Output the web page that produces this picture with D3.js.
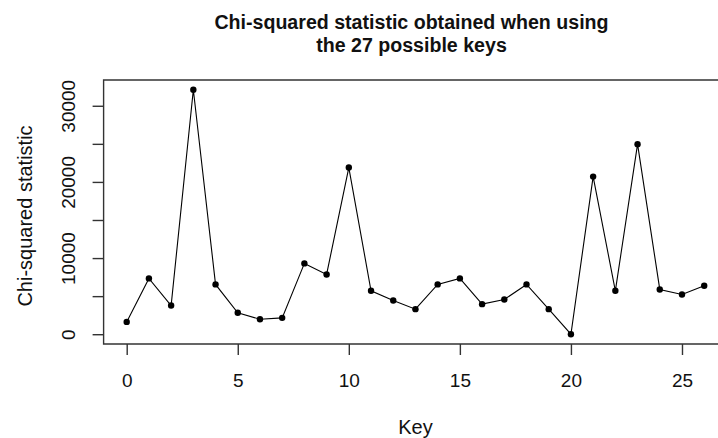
<!DOCTYPE html>
<html>
<head>
<meta charset="utf-8">
<script src="https://d3js.org/d3.v7.min.js"></script>
<style>
  body { margin: 0; background: #fff; }
  svg text { font-family: "Liberation Sans", Arial, sans-serif; fill: #111; }
</style>
</head>
<body>
<svg width="718" height="438"></svg>
<script>
// keys 0..26 and the chi-squared value
var keys = d3.range(0, 27);
var chiSq = [1620, 7330, 3770, 32100, 6540, 2810, 1970, 2150, 9300, 7850,
             21890, 5700, 4430, 3290, 6540, 7330, 3950, 4560, 6540, 3290,
             0, 20700, 5700, 24960, 5880, 5220, 6360];
var xTicks = [0, 5, 10, 15, 20, 25];
var yTicks = [0, 5000, 10000, 15000, 20000, 25000, 30000];
var yLabelled = [0, 10000, 20000, 30000];
var titleLines = ["Chi-squared statistic obtained when using", "the 27 possible keys"];

var data = keys.map(function (k, i) { return { key: k, value: chiSq[i] }; });

var svg = d3.select("svg");

// plot region (R style: 4% padding on each side of the data range)
var pLeft = 103.6, pRight = 727.3, pTop = 80, pBottom = 344;

var xr = 26 * 0.04;
var x = d3.scaleLinear().domain([0 - xr, 26 + xr]).range([pLeft, pRight]);

var ymin = d3.min(chiSq), ymax = d3.max(chiSq), yr = (ymax - ymin) * 0.04;
var y = d3.scaleLinear().domain([ymin - yr, ymax + yr]).range([pBottom, pTop]);

// box (right side falls outside the picture)
svg.append("path")
    .attr("d", "M" + pRight + "," + pTop + "H" + pLeft + "V" + pBottom + "H" + pRight)
    .attr("fill", "none")
    .attr("stroke", "#333")
    .attr("stroke-width", 1.4);

// x axis
var gx = svg.append("g")
    .attr("transform", "translate(0," + pBottom + ")")
    .call(d3.axisBottom(x).tickValues(xTicks).tickSize(11).tickSizeOuter(0).tickPadding(0));
gx.select(".domain").remove();
gx.selectAll("line").attr("stroke", "#333").attr("stroke-width", 1.4);
gx.selectAll("text")
    .attr("y", 43)
    .attr("dy", 0)
    .style("font-size", "19px")
    .style("fill", "#111");

// y axis, labels turned like R's default las=0
var gy = svg.append("g")
    .attr("transform", "translate(" + pLeft + ",0)")
    .call(d3.axisLeft(y).tickValues(yTicks).tickSize(11).tickSizeOuter(0)
        .tickFormat(function (d) { return yLabelled.indexOf(d) >= 0 ? d : ""; }));
gy.select(".domain").remove();
gy.selectAll("line").attr("stroke", "#333").attr("stroke-width", 1.4);
gy.selectAll("text")
    .attr("x", 0)
    .attr("y", 0)
    .attr("dy", 0)
    .attr("text-anchor", "middle")
    .attr("transform", "translate(-28.5,0) rotate(-90)")
    .style("font-size", "19px")
    .style("fill", "#111");

// line and points
svg.append("path")
    .datum(data)
    .attr("fill", "none")
    .attr("stroke", "#000")
    .attr("stroke-width", 1.1)
    .attr("d", d3.line()
        .x(function (d) { return x(d.key); })
        .y(function (d) { return y(d.value); }));

svg.selectAll(".pt")
    .data(data)
    .enter().append("circle")
    .attr("class", "pt")
    .attr("cx", function (d) { return x(d.key); })
    .attr("cy", function (d) { return y(d.value); })
    .attr("r", 3.2)
    .attr("fill", "#000");

// title
svg.append("text")
    .attr("x", 411.5)
    .attr("y", 28.5)
    .attr("text-anchor", "middle")
    .style("font-size", "19.6px")
    .style("font-weight", "bold")
    .selectAll("tspan")
    .data(titleLines)
    .enter().append("tspan")
    .attr("x", 411.5)
    .attr("dy", function (d, i) { return i === 0 ? 0 : 23.5; })
    .text(function (d) { return d; });

// axis titles
svg.append("text")
    .attr("x", (pLeft + pRight) / 2)
    .attr("y", 433.5)
    .attr("text-anchor", "middle")
    .style("font-size", "20px")
    .text("Key");

svg.append("text")
    .attr("transform", "translate(32," + ((pTop + pBottom) / 2 + 4) + ") rotate(-90)")
    .attr("text-anchor", "middle")
    .style("font-size", "20px")
    .text("Chi-squared statistic");
</script>
</body>
</html>
